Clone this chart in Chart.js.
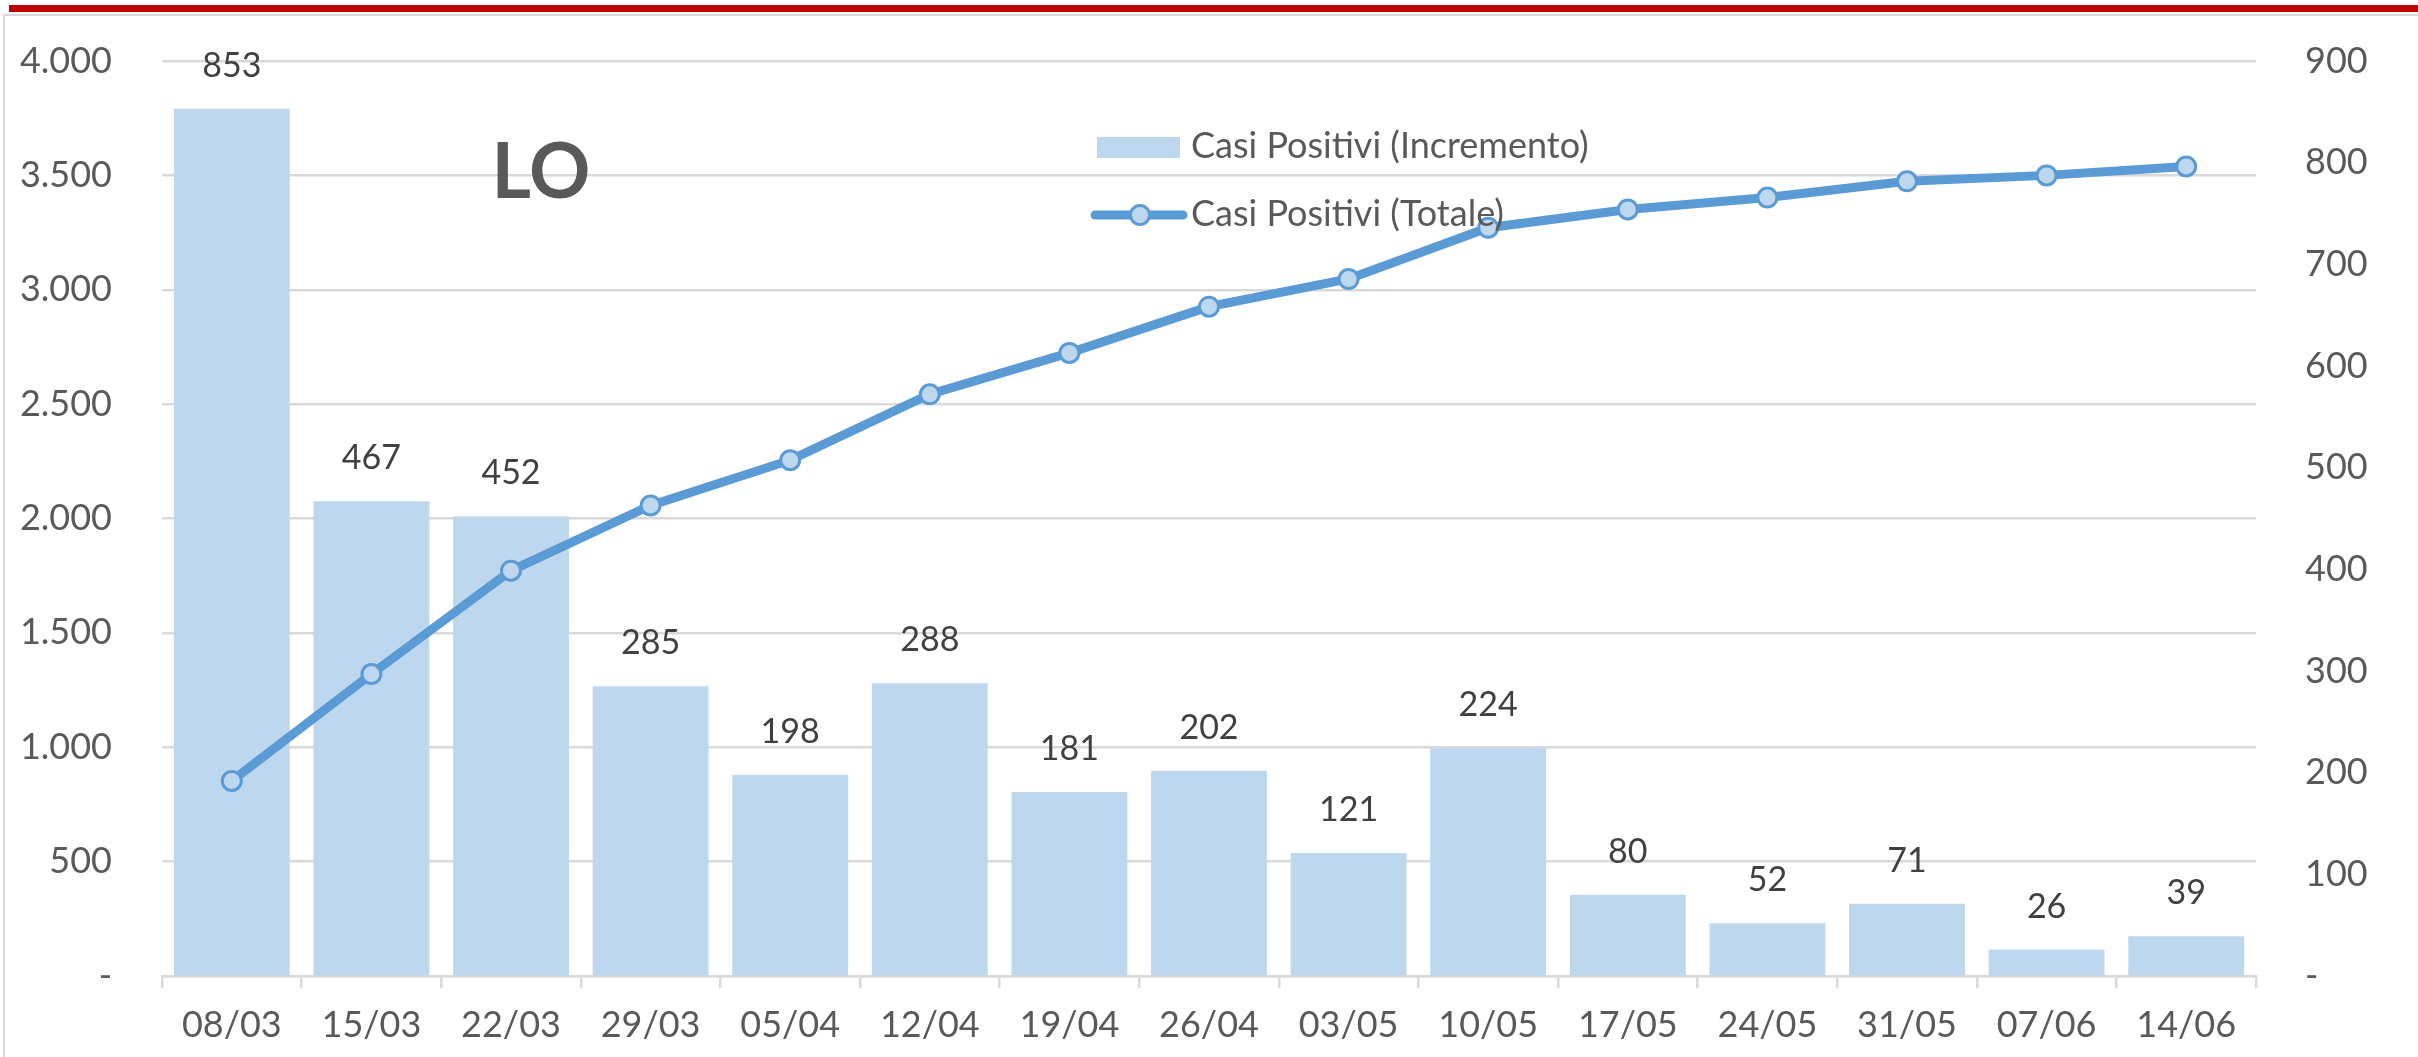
<!DOCTYPE html>
<html>
<head>
<meta charset="utf-8">
<script src="https://cdn.jsdelivr.net/npm/chart.js@4"></script>
<style>
  html, body { margin: 0; padding: 0; background: #fff; overflow: hidden; }
  #wrap { position: relative; width: 2418px; height: 1057px; }
</style>
</head>
<body>
<div id="wrap"><canvas id="chart"></canvas></div>
<script>
const weeks = ['08/03', '15/03', '22/03', '29/03', '05/04', '12/04', '19/04', '26/04',
               '03/05', '10/05', '17/05', '24/05', '31/05', '07/06', '14/06'];
// weekly new positives (right axis)
const increments = [853, 467, 452, 285, 198, 288, 181, 202, 121, 224, 80, 52, 71, 26, 39];
// running total of positives (left axis)
const totals = [853, 1320, 1772, 2057, 2255, 2543, 2724, 2926, 3047, 3271, 3351, 3403, 3474, 3500, 3539];

const barLabel = 'Casi Positivi (Incremento)';
const lineLabel = 'Casi Positivi (Totale)';

const BAR = '#BDD7EE';
const LINE = '#5B9BD5';
const GRID = '#D9D9D9';
const TEXT = '#595959';

Chart.defaults.font.family = 'Lato';
Chart.defaults.color = TEXT;

function fmt(v) {
  if (v === 0) return '-';
  return String(v).replace(/\B(?=(\d{3})+(?!\d))/g, '.');
}

// frame, red rule at the top
const backdrop = {
  id: 'backdrop',
  beforeDraw(chart) {
    const ctx = chart.ctx;
    ctx.save();
    ctx.fillStyle = '#fff';
    ctx.fillRect(0, 0, chart.width, chart.height);
    ctx.fillStyle = '#C00000';
    ctx.fillRect(9, 5, chart.width - 9, 7);
    ctx.fillStyle = GRID;
    ctx.fillRect(3, 14, chart.width - 3, 2);
    ctx.fillRect(3, 14, 2, chart.height - 14);
    ctx.restore();
  }
};

// value labels above the bars
const barValues = {
  id: 'barValues',
  afterDatasetsDraw(chart) {
    const ctx = chart.ctx;
    const meta = chart.getDatasetMeta(0);
    ctx.save();
    ctx.font = '34px Lato';
    ctx.fillStyle = '#404040';
    ctx.textAlign = 'center';
    ctx.textBaseline = 'alphabetic';
    meta.data.forEach((bar, i) => {
      ctx.fillText(increments[i], bar.x, bar.y - 32);
    });
    ctx.restore();
  }
};

// legend and the big province code
const overlay = {
  id: 'overlay',
  afterDraw(chart) {
    const ctx = chart.ctx;
    ctx.save();
    ctx.fillStyle = BAR;
    ctx.fillRect(1097, 137, 83, 21);

    ctx.strokeStyle = LINE;
    ctx.lineWidth = 9;
    ctx.lineCap = 'round';
    ctx.beginPath();
    ctx.moveTo(1095, 215);
    ctx.lineTo(1183, 215);
    ctx.stroke();
    ctx.beginPath();
    ctx.arc(1140, 215, 9.5, 0, Math.PI * 2);
    ctx.fillStyle = BAR;
    ctx.fill();
    ctx.lineWidth = 3;
    ctx.stroke();

    ctx.fillStyle = TEXT;
    ctx.font = '36px Lato';
    ctx.textAlign = 'left';
    ctx.textBaseline = 'alphabetic';
    ctx.fillText(barLabel, 1191, 158);
    ctx.fillText(lineLabel, 1191, 226);

    ctx.font = 'bold 76px Lato';
    ctx.textAlign = 'center';
    ctx.fillText('LO', 541, 198);
    ctx.restore();
  }
};

new Chart(document.getElementById('chart'), {
  type: 'bar',
  data: {
    labels: weeks,
    datasets: [
      {
        type: 'bar',
        label: barLabel,
        data: increments,
        yAxisID: 'y1',
        backgroundColor: BAR,
        borderWidth: 0,
        categoryPercentage: 1,
        barPercentage: 0.83,
        order: 2
      },
      {
        type: 'line',
        label: lineLabel,
        data: totals,
        yAxisID: 'y',
        borderColor: LINE,
        borderWidth: 9,
        pointRadius: 9.5,
        pointBorderWidth: 3,
        pointBackgroundColor: BAR,
        pointBorderColor: LINE,
        tension: 0,
        order: 1
      }
    ]
  },
  options: {
    responsive: true,
    maintainAspectRatio: false,
    animation: false,
    layout: { padding: { top: 61, bottom: 0, left: 0, right: 0 } },
    plugins: {
      legend: { display: false },
      tooltip: { enabled: false }
    },
    scales: {
      x: {
        offset: true,
        grid: {
          offset: true,
          drawOnChartArea: false,
          drawTicks: true,
          tickLength: 12,
          color: GRID,
          lineWidth: 2.5
        },
        border: { display: true, color: GRID, width: 2.5 },
        ticks: { font: { size: 36 }, color: TEXT, padding: 16 },
        afterFit(scale) { scale.height = 81; }
      },
      y: {
        position: 'left',
        min: 0,
        max: 4000,
        // the gap to the labels comes from an invisible tick mark, so it
        // does not push the chart area down
        ticks: { stepSize: 500, font: { size: 36 }, color: TEXT, padding: 2, callback: v => fmt(v) },
        grid: { color: GRID, lineWidth: 2.5, drawTicks: true, tickLength: 48, tickColor: 'rgba(0,0,0,0)' },
        border: { display: false },
        afterFit(scale) { scale.width = 162; }
      },
      y1: {
        position: 'right',
        min: 0,
        max: 900,
        ticks: { stepSize: 100, font: { size: 36 }, color: TEXT, padding: 2, callback: v => fmt(v) },
        grid: { drawOnChartArea: false, drawTicks: true, tickLength: 47, color: 'rgba(0,0,0,0)', tickColor: 'rgba(0,0,0,0)' },
        border: { display: false },
        afterFit(scale) { scale.width = 162; }
      }
    }
  },
  plugins: [backdrop, barValues, overlay]
});
</script>
</body>
</html>
